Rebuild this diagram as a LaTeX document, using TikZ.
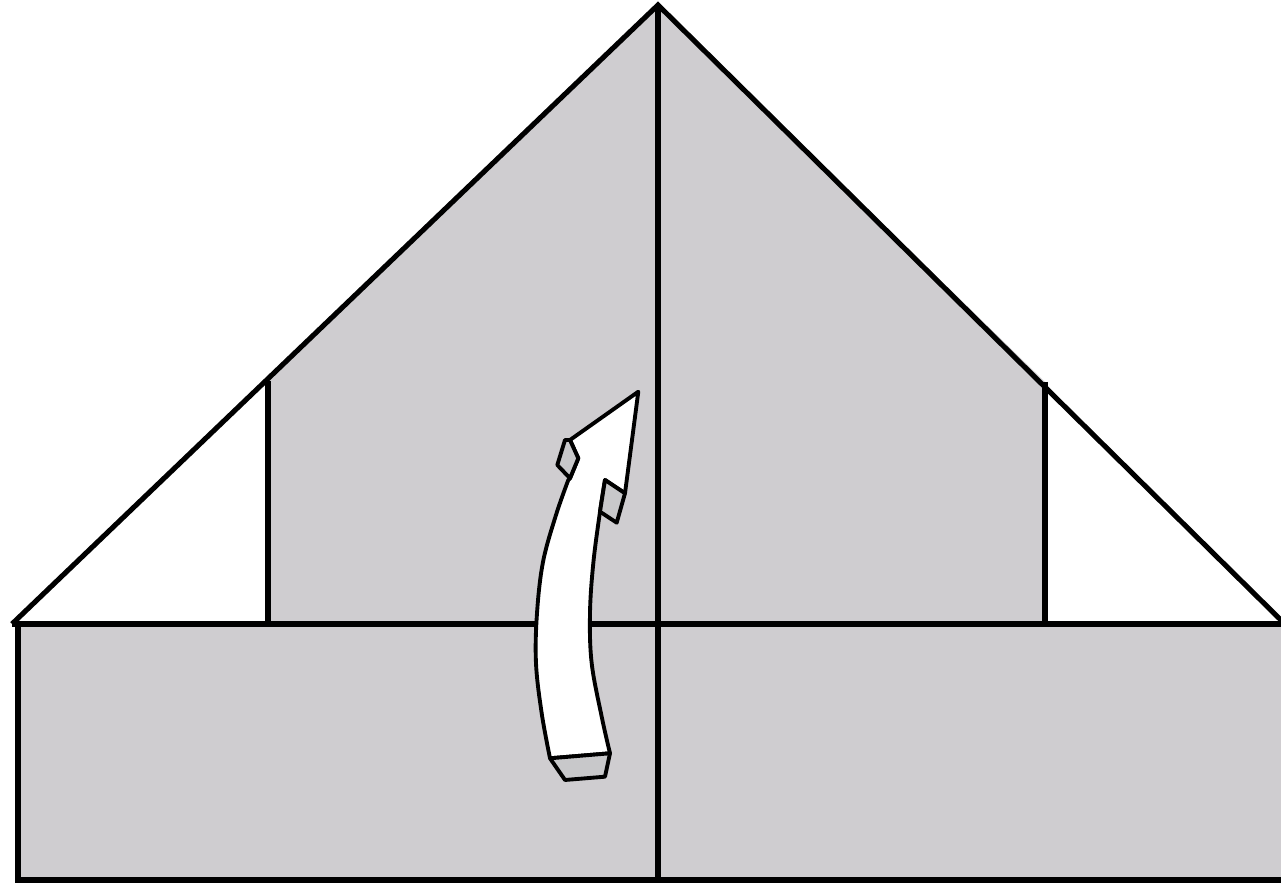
\documentclass[tikz,border=0pt]{standalone}
\definecolor{paper}{RGB}{207,205,208}
\definecolor{fold}{RGB}{200,200,202}
\tikzset{
  edge/.style={line width=1.45pt, line join=miter},
  arrowline/.style={line width=1.1pt, line join=round},
}
\begin{document}
\begin{tikzpicture}[x=0.01cm,y=-0.01cm]
\useasboundingbox (0,0) rectangle (1281,883);
\clip (0,0) rectangle (1281,883);
% key points
\coordinate (apex) at (658,5);
\coordinate (lend) at (12,624);
\coordinate (rend) at (1292,631);
\coordinate (li) at (268,381);
\coordinate (ri) at (1045,382);
\coordinate (lb) at (268,624);
\coordinate (rb) at (1045,624);
\coordinate (rl) at (18,624);
\coordinate (rlb) at (18,880);
\coordinate (rrb) at (1290,880);
\coordinate (rr) at (1290,624);
\coordinate (mt) at (658,5);
\coordinate (mb) at (658,880);
% gray fills
\fill[paper] (li) -- (apex) -- (ri) -- (rb) -- (lb) -- cycle;
\fill[paper] (rl) rectangle (rrb);
% lines
\draw[edge] (lend) -- (apex) -- (rend);
\draw[edge] (lend) -- (rr);
\draw[edge] (li) -- (lb);
\draw[edge] (ri) -- (rb);
\draw[edge] (rl) -- (rlb) -- (rrb);
\draw[edge] (mt) -- (mb);
% arrow
\draw[arrowline, fill=white]
  (638.3,391.7) -- (570,440) -- (578.3,458.3) -- (570,478.3)
  -- plot[smooth, tension=0.6] coordinates {(568.3,480) (556,515) (543,562) (537,613.3) (536,663.3) (541.7,713.3) (550,758.3)}
  -- (610,753.3)
  -- plot[smooth, tension=0.6] coordinates {(610,753.3) (601.7,716.7) (591.7,663.3) (590,613.3) (593.3,563.3) (600,511.7) (605,480)}
  -- (625,493.3) -- (632,440) -- cycle;
\draw[arrowline, fill=fold] (570,440) -- (565,440) -- (557.3,465) -- (570,478.3) -- (578.3,458.3) -- cycle;
\draw[arrowline, fill=fold] (605,480) -- (625,493.3) -- (616.7,522.7) -- (600,511.7) -- cycle;
\draw[arrowline, fill=fold] (550,758.3) -- (610,753.3) -- (605,776.7) -- (565,780) -- cycle;
\end{tikzpicture}
\end{document}
